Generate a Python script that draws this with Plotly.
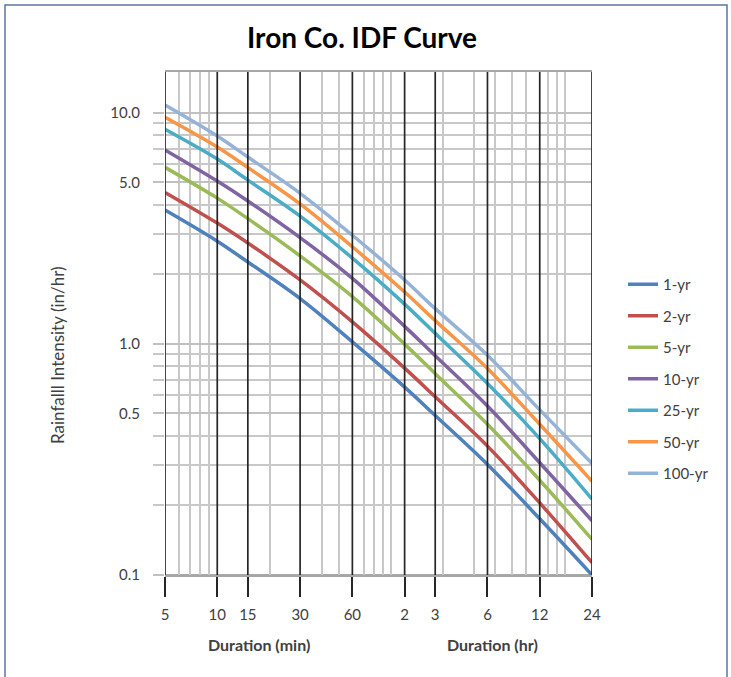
import numpy as np
import plotly.graph_objects as go

# ---- data ----
durations_min = [5, 10, 15, 30, 60, 120, 180, 360, 720, 1440]
x_tick_labels = ["5", "10", "15", "30", "60", "2", "3", "6", "12", "24"]

series_names = ["1-yr", "2-yr", "5-yr", "10-yr", "25-yr", "50-yr", "100-yr"]
i_1yr   = [3.79, 2.78, 2.26, 1.57, 1.02, 0.65, 0.490, 0.301, 0.175, 0.100]
i_2yr   = [4.52, 3.33, 2.73, 1.89, 1.245, 0.785, 0.590, 0.361, 0.205, 0.113]
i_5yr   = [5.80, 4.27, 3.48, 2.40, 1.60, 0.997, 0.743, 0.449, 0.257, 0.1425]
i_10yr  = [6.90, 5.06, 4.15, 2.88, 1.92, 1.19, 0.888, 0.538, 0.306, 0.1717]
i_25yr  = [8.47, 6.30, 5.11, 3.57, 2.35, 1.486, 1.11, 0.674, 0.389, 0.213]
i_50yr  = [9.55, 7.10, 5.79, 4.03, 2.63, 1.675, 1.26, 0.782, 0.449, 0.2545]
i_100yr = [10.80, 7.93, 6.43, 4.48, 2.95, 1.89, 1.42, 0.893, 0.518, 0.3035]
series_values = [i_1yr, i_2yr, i_5yr, i_10yr, i_25yr, i_50yr, i_100yr]
series_colors = ["#4F81BD", "#C0504D", "#9BBB59", "#8064A2", "#4BACC6", "#F79646", "#95B3D7"]

y_tick_vals = [0.1, 0.5, 1.0, 5.0, 10.0]
y_tick_text = ["0.1", "0.5", "1.0", "5.0", "10.0"]
y_minor_vals = [0.2, 0.3, 0.4, 0.6, 0.7, 0.8, 0.9, 2, 3, 4, 6, 7, 8, 9]
y_dark_vals = [0.1, 1.0, 10.0]
x_minor_vals = [6, 7, 8, 9, 20, 40, 50, 70, 80, 90, 100, 200, 300, 400, 500, 600, 800, 900, 1000]

x_min, x_max = 5, 1440
y_min, y_max = 0.1, 15

FONT = "Lato, 'Open Sans', sans-serif"
TXT = "#404040"

# plot area spans px 165..592 (x), 72..575 (y)
PX = lambda p: (p - 165) / 427
PY = lambda p: (575 - p) / 503

fig = go.Figure()
for name, vals, col in zip(series_names, series_values, series_colors):
    fig.add_trace(go.Scatter(
        x=durations_min, y=vals, name=name, mode="lines",
        line=dict(color=col, width=3.5, shape="spline", smoothing=1.0),
        legendgroup=name,
    ))

shapes = []
for v in y_dark_vals:
    shapes.append(dict(type="line", xref="x domain", yref="y", x0=0, x1=1, y0=v, y1=v,
                       line=dict(color="#8c8c8c", width=1.5), layer="below"))
for v in durations_min:
    shapes.append(dict(type="line", xref="x", yref="y domain", x0=v, x1=v, y0=0, y1=1,
                       line=dict(color="#262626", width=1.7), layer="above"))
shapes.append(dict(type="rect", xref="paper", yref="paper",
                   x0=PX(5), x1=PX(727), y0=PY(700), y1=PY(5),
                   line=dict(color="#5877a3", width=1.5), layer="below"))

annotations = [
    dict(text="<b>Iron Co. IDF Curve</b>", xref="paper", yref="paper",
         x=PX(362), y=PY(37), xanchor="center", yanchor="middle",
         showarrow=False, font=dict(family=FONT, size=28, color="#000000")),
    dict(text="Rainfalll Intensity (in/hr)", xref="paper", yref="paper",
         x=PX(57), y=PY(355), xanchor="center", yanchor="middle",
         textangle=-90, showarrow=False, font=dict(family=FONT, size=17, color=TXT)),
    dict(text="<b>Duration (min)</b>", xref="paper", yref="paper",
         x=PX(259), y=PY(644), xanchor="center", yanchor="middle",
         showarrow=False, font=dict(family=FONT, size=16, color=TXT)),
    dict(text="<b>Duration (hr)</b>", xref="paper", yref="paper",
         x=PX(492), y=PY(644), xanchor="center", yanchor="middle",
         showarrow=False, font=dict(family=FONT, size=16, color=TXT)),
]

fig.update_layout(
    width=731, height=677,
    margin=dict(l=165, r=139, t=72, b=102),
    paper_bgcolor="white", plot_bgcolor="white",
    font=dict(family=FONT, size=15, color=TXT),
    showlegend=True,
    legend=dict(x=PX(623), y=PY(268), xanchor="left", yanchor="top",
                font=dict(family=FONT, size=15, color=TXT), tracegroupgap=9,
                bgcolor="rgba(0,0,0,0)"),
    shapes=shapes,
    annotations=annotations,
    xaxis=dict(
        type="log", range=[np.log10(x_min), np.log10(x_max)],
        tickmode="array", tickvals=durations_min, ticktext=x_tick_labels,
        showgrid=False, ticks="outside", ticklen=20, tickcolor="#262626", tickwidth=1.7,
        ticklabelstandoff=5, zeroline=False,
        showline=True, mirror=True, linecolor="#a6a6a6", linewidth=1.5,
        minor=dict(tickmode="array", tickvals=x_minor_vals, showgrid=True,
                   gridcolor="#c8c8c8", gridwidth=1.5, ticks=""),
        tickfont=dict(family=FONT, size=15, color=TXT),
    ),
    yaxis=dict(
        type="log", range=[np.log10(y_min), np.log10(y_max)],
        tickmode="array", tickvals=y_tick_vals, ticktext=y_tick_text,
        showgrid=True, gridcolor="#c0c0c0", gridwidth=1.5,
        ticks="outside", ticklen=11, tickcolor="#c0c0c0", tickwidth=1.5,
        ticklabelstandoff=10, zeroline=False, showline=False,
        minor=dict(tickmode="array", tickvals=y_minor_vals, showgrid=True,
                   gridcolor="#c8c8c8", gridwidth=1.5, ticks="outside", ticklen=11,
                   tickcolor="#c8c8c8", tickwidth=1.5),
        tickfont=dict(family=FONT, size=15, color=TXT),
    ),
)

fig.write_html("out.html", config={"displayModeBar": False},
               post_script="document.body.style.margin='0';")
